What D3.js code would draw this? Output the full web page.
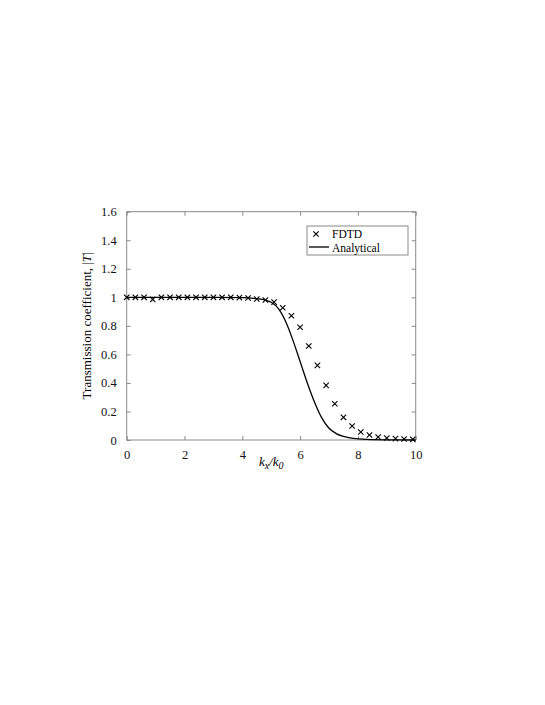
<!DOCTYPE html>
<html>
<head>
<meta charset="utf-8">
<script src="https://cdn.jsdelivr.net/npm/d3@7"></script>
<style>
  body { margin: 0; background: #fff; }
  text { font-family: "Liberation Serif", "Times New Roman", serif; }
</style>
</head>
<body>
<div id="chart"></div>
<script>
// FDTD samples (every 0.3 in kx/k0)
const fdtdX = [0, 0.3, 0.6, 0.9, 1.2, 1.5, 1.8, 2.1, 2.4, 2.7, 3.0, 3.3, 3.6, 3.9, 4.2, 4.5, 4.8,
  5.1, 5.4, 5.7, 6.0, 6.3, 6.6, 6.9, 7.2, 7.5, 7.8, 8.1, 8.4, 8.7, 9.0, 9.3, 9.6, 9.9];
const fdtdY = [1.0, 1.0, 1.0, 0.985, 1.0, 1.0, 1.0, 1.0, 1.0, 1.0, 1.0, 1.0, 1.0, 0.998, 0.995, 0.988, 0.981,
  0.966, 0.927, 0.871, 0.79, 0.659, 0.523, 0.383, 0.254, 0.159, 0.098, 0.056, 0.035, 0.021, 0.014, 0.01, 0.007, 0.005];

// analytical curve
const anaX = [0, 1, 2, 3, 4, 4.5, 4.8, 5.0, 5.25, 5.5, 5.75, 6.0, 6.25, 6.5, 6.75, 7.0, 7.25, 7.5, 7.85, 8.3, 9, 10];
const anaY = [1, 1, 1, 1, 0.998, 0.99, 0.98, 0.965, 0.92, 0.83, 0.70, 0.55, 0.40, 0.265, 0.155, 0.082, 0.045, 0.025, 0.011, 0.004, 0.001, 0];

const xTicks = [0, 2, 4, 6, 8, 10];
const yTicks = [0, 0.2, 0.4, 0.6, 0.8, 1, 1.2, 1.4, 1.6];

const W = 545, H = 705;
const margin = { left: 126.7, top: 211.7, right: W - 415.7, bottom: H - 440 };
const width = W - margin.left - margin.right,
  height = H - margin.top - margin.bottom;

let svg = d3.select("#chart").append("svg")
  .attr("width", W)
  .attr("height", H);

let g = svg.append("g")
  .attr("transform", "translate(" + margin.left + "," + margin.top + ")");

let x = d3.scaleLinear().domain([0, 10]).range([0, width]);
let y = d3.scaleLinear().domain([0, 1.6]).range([height, 0]);

const frameColor = "#8a8a8a";
const tickLen = 4;

// frame
g.append("rect")
  .attr("width", width)
  .attr("height", height)
  .attr("fill", "none")
  .attr("stroke", frameColor)
  .attr("stroke-width", 1);

// axes with inward ticks on all four sides
let fmt = d3.format("~g");
g.append("g")
  .attr("transform", "translate(0," + height + ")")
  .call(d3.axisBottom(x).tickValues(xTicks).tickSizeInner(-tickLen).tickSizeOuter(0).tickPadding(10).tickFormat(fmt))
  .call(a => a.select(".domain").remove());
g.append("g")
  .call(d3.axisTop(x).tickValues(xTicks).tickSizeInner(-tickLen).tickSizeOuter(0).tickFormat(""))
  .call(a => a.select(".domain").remove());
g.append("g")
  .call(d3.axisLeft(y).tickValues(yTicks).tickSizeInner(-tickLen).tickSizeOuter(0).tickPadding(10).tickFormat(fmt))
  .call(a => a.select(".domain").remove());
g.append("g")
  .attr("transform", "translate(" + width + ",0)")
  .call(d3.axisRight(y).tickValues(yTicks).tickSizeInner(-tickLen).tickSizeOuter(0).tickFormat(""))
  .call(a => a.select(".domain").remove());

g.selectAll(".tick line").attr("stroke", frameColor);
g.selectAll(".tick text")
  .attr("fill", "#111")
  .style("font-family", "'Liberation Serif', serif")
  .style("font-size", "12.5px");

// analytical line
let line = d3.line()
  .x(function (d, i) { return x(anaX[i]); })
  .y(function (d, i) { return y(anaY[i]); })
  .curve(d3.curveMonotoneX);

g.append("path")
  .datum(anaY)
  .attr("d", line)
  .attr("fill", "none")
  .attr("stroke", "#000")
  .attr("stroke-width", 1.3);

// FDTD crosses
const s = 2.7;
function cross(cx, cy) {
  return "M" + (cx - s) + "," + (cy - s) + "L" + (cx + s) + "," + (cy + s) +
    "M" + (cx - s) + "," + (cy + s) + "L" + (cx + s) + "," + (cy - s);
}
g.selectAll(".fdtd")
  .data(fdtdY)
  .enter().append("path")
    .attr("class", "fdtd")
    .attr("d", function (d, i) { return cross(x(fdtdX[i]), y(d)); })
    .attr("stroke", "#000")
    .attr("stroke-width", 1.1)
    .attr("fill", "none");

// legend
let legend = g.append("g")
  .attr("transform", "translate(" + (307 - margin.left) + "," + (226 - margin.top) + ")");
legend.append("rect")
  .attr("width", 101)
  .attr("height", 29)
  .attr("fill", "#fff")
  .attr("stroke", frameColor)
  .attr("stroke-width", 1);
legend.append("path")
  .attr("d", cross(9, 8))
  .attr("stroke", "#000")
  .attr("stroke-width", 1.1);
legend.append("text")
  .attr("x", 25)
  .attr("y", 11.5)
  .style("font-size", "11.5px")
  .text("FDTD");
legend.append("line")
  .attr("x1", 2).attr("x2", 22)
  .attr("y1", 21).attr("y2", 21)
  .attr("stroke", "#000")
  .attr("stroke-width", 1.3);
legend.append("text")
  .attr("x", 25)
  .attr("y", 25.5)
  .style("font-size", "11.5px")
  .text("Analytical");

// axis titles
let ylab = svg.append("text")
  .attr("transform", "translate(91," + (margin.top + height / 2) + ") rotate(-90)")
  .attr("text-anchor", "middle")
  .style("font-size", "13px");
ylab.append("tspan").text("Transmission coefficient, |");
ylab.append("tspan").style("font-style", "italic").text("T");
ylab.append("tspan").text("|");

let xlab = svg.append("text")
  .attr("x", margin.left + width / 2)
  .attr("y", 466)
  .attr("text-anchor", "middle")
  .style("font-size", "13px")
  .style("font-style", "italic");
xlab.append("tspan").text("k");
xlab.append("tspan").attr("dy", 3).style("font-size", "10px").text("x");
xlab.append("tspan").attr("dy", -3).text("/k");
xlab.append("tspan").attr("dy", 3).style("font-size", "10px").text("0");
</script>
</body>
</html>
